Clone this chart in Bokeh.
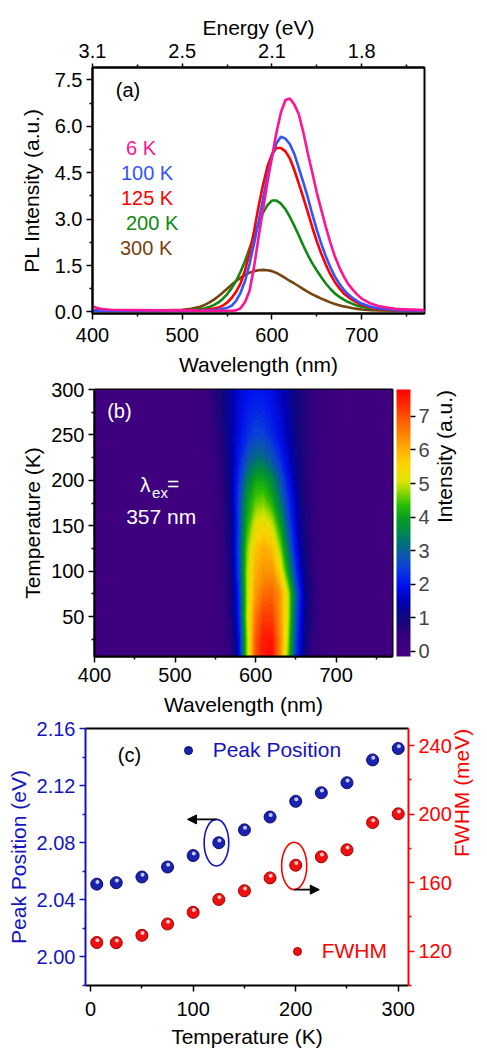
import numpy as np
from math import pi
from bokeh.plotting import figure
from bokeh.models import (LinearAxis, FixedTicker, Label, LinearColorMapper, ColorBar, Range1d,
                          Arrow, NormalHead, Legend, LegendItem, PrintfTickFormatter)
from bokeh.transform import dodge
from bokeh.embed import file_html
from bokeh.resources import INLINE

# ---------------- panel (a): PL spectra ----------------
wavelength = [400, 410, 420, 450, 480, 500, 510,
              520, 525, 530, 535, 540, 545, 550, 555, 560, 565, 570, 575, 580, 585,
              590, 595, 600, 605, 610, 615, 620, 625, 630, 635, 640, 645, 650, 655,
              660, 665, 670, 675, 680, 685, 690, 695, 700, 710, 720, 740, 770]
pl_6K = [0.18, 0.09, 0.07, 0.06, 0.05, 0.05, 0.05,
         0.04, 0.04, 0.04, 0.04, 0.04, 0.04, 0.04, 0.04, 0.05, 0.12, 0.32, 0.68, 1.45, 2.4,
         3.3, 4.2, 5.0, 5.8, 6.45, 6.85, 6.9, 6.7, 6.38, 5.8, 5.12, 4.5, 3.85, 3.3,
         2.75, 2.25, 1.8, 1.45, 1.15, 0.9, 0.72, 0.56, 0.43, 0.27, 0.18, 0.09, 0.06]
pl_100K = [0.04, 0.04, 0.04, 0.04, 0.04, 0.04, 0.04,
           0.04, 0.05, 0.05, 0.06, 0.07, 0.1, 0.13, 0.2, 0.36, 0.62, 1.0, 1.55, 2.2, 2.9,
           3.65, 4.4, 5.05, 5.45, 5.66, 5.6, 5.42, 5.1, 4.65, 4.18, 3.7, 3.15, 2.65, 2.2,
           1.8, 1.45, 1.15, 0.92, 0.72, 0.57, 0.45, 0.35, 0.27, 0.17, 0.11, 0.06, 0.04]
pl_125K = [0.04, 0.04, 0.04, 0.04, 0.04, 0.04, 0.05,
           0.06, 0.07, 0.09, 0.11, 0.14, 0.2, 0.3, 0.45, 0.65, 0.92, 1.35, 1.9, 2.6, 3.4,
           4.1, 4.7, 5.1, 5.3, 5.3, 5.19, 4.96, 4.58, 4.14, 3.69, 3.22, 2.73, 2.28, 1.88,
           1.53, 1.22, 0.97, 0.77, 0.6, 0.48, 0.38, 0.3, 0.23, 0.14, 0.09, 0.05, 0.04]
pl_200K = [0.03, 0.03, 0.03, 0.03, 0.03, 0.04, 0.06,
           0.09, 0.12, 0.16, 0.22, 0.3, 0.42, 0.57, 0.77, 1.0, 1.3, 1.65, 2.05, 2.45, 2.85,
           3.2, 3.45, 3.6, 3.6, 3.5, 3.32, 3.07, 2.78, 2.47, 2.14, 1.84, 1.57, 1.34, 1.12,
           0.92, 0.75, 0.6, 0.49, 0.4, 0.32, 0.26, 0.21, 0.17, 0.11, 0.08, 0.05, 0.03]
pl_300K = [0.06, 0.05, 0.05, 0.05, 0.05, 0.07, 0.1,
           0.17, 0.23, 0.3, 0.39, 0.5, 0.62, 0.75, 0.88, 1.0, 1.1, 1.2, 1.27, 1.32, 1.35,
           1.36, 1.35, 1.32, 1.26, 1.18, 1.09, 1.0, 0.92, 0.83, 0.74, 0.65, 0.57, 0.5, 0.43,
           0.37, 0.31, 0.26, 0.22, 0.18, 0.15, 0.12, 0.1, 0.08, 0.06, 0.05, 0.04, 0.03]
series_labels = ["6 K", "100 K", "125 K", "200 K", "300 K"]
series_colors = ["#ff1493", "#3355ff", "#ff0000", "#118811", "#774411"]

wl_ticks = [400, 500, 600, 700]
wl_minor = [450, 550, 650, 750]
energy_labels = ["3.1", "2.5", "2.1", "1.8"]
pl_ticks = [0.0, 1.5, 3.0, 4.5, 6.0, 7.5]
pl_minor = [0.75, 2.25, 3.75, 5.25, 6.75]

# ---------------- panel (b): PL map ----------------
map_T = [6, 25, 50, 75, 100, 125, 150, 175, 200, 225, 250, 275, 300]
map_wl = [400, 410, 420, 430, 440, 450, 460, 470, 480, 490, 500, 510, 520, 530,
          540, 550, 560, 570, 580, 590, 600, 610, 620, 630, 640, 650, 660, 670, 680, 690, 700,
          710, 720, 730, 740, 750, 760, 770]
map_bg_left = [0.05, 0.05, 0.05, 0.05, 0.05, 0.05, 0.05, 0.05, 0.05, 0.05, 0.05, 0.05, 0.06, 0.08]
map_bg_right = [0.09, 0.07, 0.06, 0.05, 0.05, 0.05, 0.05]
# intensity at 540..700 nm (10 nm steps), one row per temperature
map_core = [
    [0.1, 0.15, 0.28, 0.6, 1.8, 4.8, 7.0, 7.6, 7.7, 6.4, 4.6, 2.3, 1.1, 0.55, 0.3, 0.18, 0.11],
    [0.1, 0.15, 0.3, 0.65, 1.9, 4.8, 6.9, 7.6, 7.6, 6.5, 4.8, 2.5, 1.2, 0.6, 0.32, 0.2, 0.12],
    [0.1, 0.16, 0.35, 0.85, 2.2, 5.0, 6.6, 7.2, 7.2, 6.3, 5.0, 2.7, 1.3, 0.65, 0.35, 0.2, 0.12],
    [0.1, 0.17, 0.38, 0.9, 2.3, 4.9, 6.2, 6.7, 6.8, 6.3, 5.0, 2.9, 1.4, 0.7, 0.36, 0.21, 0.12],
    [0.1, 0.18, 0.4, 1.0, 2.6, 4.9, 6.0, 6.3, 6.3, 5.5, 4.0, 2.3, 1.2, 0.62, 0.33, 0.2, 0.12],
    [0.1, 0.2, 0.45, 1.05, 2.7, 4.7, 5.7, 6.0, 5.8, 4.8, 3.3, 1.9, 1.05, 0.56, 0.3, 0.19, 0.12],
    [0.1, 0.2, 0.5, 1.1, 2.6, 4.3, 5.2, 5.4, 5.1, 4.1, 2.8, 1.7, 0.95, 0.52, 0.3, 0.19, 0.12],
    [0.1, 0.25, 0.6, 1.2, 2.6, 4.0, 4.6, 4.7, 4.3, 3.4, 2.4, 1.5, 0.88, 0.5, 0.3, 0.19, 0.12],
    [0.12, 0.3, 0.7, 1.3, 2.4, 3.5, 4.1, 4.1, 3.7, 2.9, 2.05, 1.3, 0.82, 0.5, 0.3, 0.2, 0.13],
    [0.15, 0.4, 0.8, 1.35, 2.1, 2.8, 3.2, 3.15, 2.8, 2.3, 1.7, 1.18, 0.78, 0.5, 0.31, 0.21, 0.14],
    [0.2, 0.5, 0.9, 1.4, 1.9, 2.3, 2.55, 2.5, 2.25, 1.9, 1.5, 1.1, 0.75, 0.5, 0.32, 0.22, 0.15],
    [0.25, 0.6, 1.0, 1.4, 1.8, 2.1, 2.25, 2.2, 2.0, 1.75, 1.4, 1.05, 0.75, 0.5, 0.33, 0.23, 0.16],
    [0.3, 0.7, 1.0, 1.4, 1.75, 1.95, 2.0, 2.0, 1.85, 1.6, 1.3, 1.0, 0.75, 0.5, 0.35, 0.25, 0.18],
]
cbar_ticks = [0, 1, 2, 3, 4, 5, 6, 7]
map_T_ticks = [50, 100, 150, 200, 250, 300]
map_T_minor = [25, 75, 125, 175, 225, 275]

# ---------------- panel (c): peak position & FWHM ----------------
temperature = [6, 25, 50, 75, 100, 125, 150, 175, 200, 225, 250, 275, 300]
peak_position = [2.051, 2.052, 2.056, 2.063, 2.071, 2.080, 2.089, 2.098, 2.109, 2.115, 2.122, 2.138, 2.146]
fwhm = [125.1, 125.0, 129.3, 135.9, 142.7, 150.2, 155.3, 162.8, 170.2, 175.1, 179.2, 195.1, 200.2]
T_ticks = [0, 100, 200, 300]
T_minor = [50, 150, 250]
peak_ticks = [2.00, 2.04, 2.08, 2.12, 2.16]
peak_minor = [1.98, 2.02, 2.06, 2.10, 2.14]
fwhm_ticks = [120, 160, 200, 240]
fwhm_minor = [100, 140, 180, 220]

FONT = "Liberation Sans"
TICK_FS = "20px"
LAB_FS = "21px"
BLUE = "#1414c0"
RED = "#ff0000"
W = 487


def style_axis(ax, color="black", tick_out=6, minor_out=3):
    ax.axis_line_color = color
    ax.axis_line_width = 2
    ax.major_tick_line_color = color
    ax.minor_tick_line_color = color
    ax.major_tick_line_width = 1.5
    ax.minor_tick_line_width = 1.5
    ax.major_tick_in = 0
    ax.major_tick_out = tick_out
    ax.minor_tick_in = 0
    ax.minor_tick_out = minor_out
    ax.major_label_text_font = FONT
    ax.major_label_text_font_size = TICK_FS
    ax.major_label_text_color = color
    ax.axis_label_text_font = FONT
    ax.axis_label_text_font_size = LAB_FS
    ax.axis_label_text_font_style = "normal"
    ax.axis_label_text_color = color


def read_upward(ax):
    # right-hand axis titles read bottom-to-top as in the reference
    if "axis_label_orientation" in ax.properties():
        ax.axis_label_orientation = pi / 2


def base_fig(**kw):
    p = figure(output_backend="svg", toolbar_location=None, **kw)
    p.grid.visible = False
    p.background_fill_color = "white"
    p.border_fill_color = "white"
    return p


# ================= panel (a) =================
p1 = base_fig(width=W, height=380, x_range=(400, 770), y_range=(-0.05, 7.9),
              min_border_left=92, min_border_right=W - 92 - 332, min_border_top=67,
              min_border_bottom=67)
p1.outline_line_color = "black"
p1.outline_line_width = 2
for ys, c in zip([pl_300K, pl_200K, pl_125K, pl_100K, pl_6K], series_colors[::-1]):
    p1.line(wavelength, ys, line_color=c, line_width=2.6)

ax = p1.xaxis[0]
ax.ticker = FixedTicker(ticks=wl_ticks, minor_ticks=wl_minor)
ax.axis_label = "Wavelength (nm)"
style_axis(ax)
ax.major_label_standoff = 8
ax.axis_label_standoff = 8
ay = p1.yaxis[0]
ay.ticker = FixedTicker(ticks=pl_ticks, minor_ticks=pl_minor)
ay.formatter = PrintfTickFormatter(format="%.1f")
ay.axis_label = "PL Intensity (a.u.)"
style_axis(ay)
ay.major_label_standoff = 4
ay.axis_label_standoff = 9

top = LinearAxis(ticker=FixedTicker(ticks=wl_ticks, minor_ticks=wl_minor),
                 major_label_overrides={t: s for t, s in zip(wl_ticks, energy_labels)},
                 axis_label="Energy (eV)")
style_axis(top, tick_out=4, minor_out=3)
top.major_label_standoff = 6
top.axis_label_standoff = 2
p1.add_layout(top, "above")

p1.add_layout(Label(x=426, y=7.17, text="(a)", text_font=FONT, text_font_size="20px",
                    text_baseline="middle", text_color="black"))
leg_x = [437.3, 431.7, 431.7, 437.3, 430.6]
leg_y = [5.29, 4.48, 3.68, 2.87, 2.06]
for lx, ly, s, c in zip(leg_x, leg_y, series_labels, series_colors):
    p1.add_layout(Label(x=lx, y=ly, text=s, text_font=FONT, text_font_size="20px",
                        text_baseline="middle", text_color=c))

# ================= panel (b) =================
anchors = [(-0.15, "#45007e"), (0.5, "#320080"), (1.0, "#10087c"), (1.5, "#0000b4"),
           (2.0, "#0014f0"), (2.5, "#0a40d8"), (2.9, "#0a5aa8"), (3.2, "#00707c"),
           (3.6, "#008c46"), (4.0, "#0aa01e"), (4.4, "#30c000"), (4.8, "#9cdc00"),
           (5.1, "#e0e600"), (5.6, "#ffd200"), (6.1, "#ffa800"), (6.6, "#ff7800"),
           (7.1, "#ff4600"), (7.8, "#ff0000")]
lo, hi = -0.15, 7.8
av = np.array([a[0] for a in anchors])
ac = np.array([[int(a[1][i:i + 2], 16) for i in (1, 3, 5)] for a in anchors], dtype=float)


def cmap(v):
    rgb = [np.interp(v, av, ac[:, k]) for k in range(3)]
    return "#%02x%02x%02x" % tuple(int(round(x)) for x in rgb)


palette = [cmap(v) for v in np.linspace(lo, hi, 256)]
mapper = LinearColorMapper(palette=palette, low=lo, high=hi)

levels = np.linspace(lo, hi, 81)
fill_cols = [cmap(0.5 * (a + b)) for a, b in zip(levels[:-1], levels[1:])]
line_cols = [cmap(v) for v in levels]

heat = np.array([map_bg_left + row + map_bg_right for row in map_core], dtype=float)

p2 = base_fig(width=W, height=338, x_range=(400, 770), y_range=(6, 300),
              min_border_left=94, min_border_right=W - 94 - 298, min_border_top=9,
              min_border_bottom=62)
p2.outline_line_color = "black"
p2.outline_line_width = 2
p2.background_fill_color = cmap(0.05)
p2.contour(x=map_wl, y=map_T, z=heat, levels=levels, fill_color=fill_cols,
           line_color=line_cols, line_width=1.0)

bx = p2.xaxis[0]
bx.ticker = FixedTicker(ticks=wl_ticks, minor_ticks=wl_minor)
bx.axis_label = "Wavelength (nm)"
style_axis(bx)
bx.major_label_standoff = 5
bx.axis_label_standoff = 8
by = p2.yaxis[0]
by.ticker = FixedTicker(ticks=map_T_ticks, minor_ticks=map_T_minor)
by.axis_label = "Temperature (K)"
style_axis(by)
by.major_label_standoff = 4
by.axis_label_standoff = 4

cb = ColorBar(color_mapper=mapper, width=14, height=267, padding=0, margin=0, location=(4, 0),
              ticker=FixedTicker(ticks=cbar_ticks), major_tick_out=5, major_tick_in=0,
              major_tick_line_color="black", major_tick_line_width=1.5,
              minor_tick_line_color=None,
              major_label_text_font=FONT, major_label_text_font_size=TICK_FS,
              label_standoff=3, bar_line_color=None, border_line_color=None,
              background_fill_alpha=0)
p2.add_layout(cb, "right")
cb_title = LinearAxis(ticker=FixedTicker(ticks=[]), axis_label="Intensity (a.u.)")
style_axis(cb_title, tick_out=0, minor_out=0)
cb_title.axis_line_color = None
cb_title.major_label_standoff = 0
cb_title.major_label_text_font_size = "0px"
cb_title.axis_label_standoff = 12
read_upward(cb_title)
p2.add_layout(cb_title, "right")

p2.add_layout(Label(x=415.7, y=276.6, text="(b)", text_font=FONT, text_font_size="20px",
                    text_baseline="middle", text_color="white"))
p2.add_layout(Label(x=456.6, y=195.5, text="\u03bb", text_font=FONT, text_font_size="21px",
                    text_baseline="middle", text_color="white"))
p2.add_layout(Label(x=471.5, y=186.7, text="ex", text_font=FONT, text_font_size="15px",
                    text_baseline="middle", text_color="white"))
p2.add_layout(Label(x=490.1, y=196.3, text="=", text_font=FONT, text_font_size="21px",
                    text_baseline="middle", text_color="white"))
p2.add_layout(Label(x=439.3, y=160.7, text="357 nm", text_font=FONT, text_font_size="21px",
                    text_baseline="middle", text_color="white"))

# ================= panel (c) =================
p3 = base_fig(width=W, height=332, x_range=(-5, 310), y_range=(1.98, 2.16),
              min_border_left=85, min_border_right=W - 85 - 328, min_border_top=10,
              min_border_bottom=57)
p3.outline_line_color = None
p3.extra_y_ranges = {"fwhm": Range1d(100, 250)}

cx = p3.xaxis[0]
cx.ticker = FixedTicker(ticks=T_ticks, minor_ticks=T_minor)
cx.axis_label = "Temperature (K)"
style_axis(cx)
cx.major_label_standoff = 10
cx.axis_label_standoff = 6
cy = p3.yaxis[0]
cy.ticker = FixedTicker(ticks=peak_ticks, minor_ticks=peak_minor)
cy.formatter = PrintfTickFormatter(format="%.2f")
cy.axis_label = "Peak Position (eV)"
style_axis(cy, color=BLUE)
cy.major_label_standoff = 4
cy.axis_label_standoff = 4

ry = LinearAxis(y_range_name="fwhm", ticker=FixedTicker(ticks=fwhm_ticks, minor_ticks=fwhm_minor),
                axis_label="FWHM (meV)")
style_axis(ry, color=RED)
ry.major_label_standoff = 4
ry.axis_label_standoff = 7
read_upward(ry)
p3.add_layout(ry, "right")
ctop = LinearAxis(ticker=FixedTicker(ticks=[]), major_tick_out=0, minor_tick_out=0,
                  major_label_standoff=0)
ctop.axis_line_width = 2
ctop.axis_line_color = "black"
ctop.major_label_text_font_size = "0px"
p3.add_layout(ctop, "above")

src = dict(T=temperature, peak=peak_position, fwhm=fwhm)
rb = p3.scatter(x="T", y="peak", source=src, size=12, fill_color="#1a22b0",
                line_color="#0c0c70", line_width=1)
p3.scatter(x=dodge("T", 0.6, range=p3.x_range), y=dodge("peak", 0.0015, range=p3.y_range),
           source=src, size=4, fill_color="white", fill_alpha=0.75, line_color=None)
rr = p3.scatter(x="T", y="fwhm", source=src, y_range_name="fwhm", size=12, fill_color="#f01010",
                line_color="#a00000", line_width=1)
p3.scatter(x=dodge("T", 0.6, range=p3.x_range), y=dodge("fwhm", 1.3),
           source=src, y_range_name="fwhm", size=4, fill_color="white", fill_alpha=0.75,
           line_color=None)

# ellipse + arrow annotations around the 125 K (peak) and 200 K (FWHM) points
i_b = temperature.index(125)
i_r = temperature.index(200)
ell_wb, ell_hb = 24, 0.0327
ell_wr, ell_hr = 24.5, 27.7
p3.ellipse(x=[temperature[i_b] - 2.3], y=[peak_position[i_b]], width=ell_wb, height=ell_hb,
           fill_color=None, line_color=BLUE, line_width=1.6)
p3.ellipse(x=[temperature[i_r] - 1.5], y=[fwhm[i_r] - 0.4], width=ell_wr, height=ell_hr,
           y_range_name="fwhm", fill_color=None, line_color=RED, line_width=1.6)
yb = peak_position[i_b] + ell_hb / 2
p3.add_layout(Arrow(end=NormalHead(size=9, fill_color="black", line_color="black"),
                    x_start=temperature[i_b] - 2.3, y_start=yb, x_end=temperature[i_b] - 30.5,
                    y_end=yb, line_color="black", line_width=1.6))
yr = fwhm[i_r] - 0.4 - ell_hr / 2
p3.add_layout(Arrow(end=NormalHead(size=9, fill_color="black", line_color="black"),
                    x_start=temperature[i_r] - 1.5, y_start=yr, x_end=temperature[i_r] + 23,
                    y_end=yr, line_color="black", line_width=1.6, y_range_name="fwhm"))

p3.add_layout(Label(x=26.5, y=2.1414, text="(c)", text_font=FONT, text_font_size="20px",
                    text_baseline="middle", text_color="black"))

for items, loc, col in [([LegendItem(label="Peak Position", renderers=[rb])], (84.7, 223), BLUE),
                        ([LegendItem(label="FWHM", renderers=[rr])], (193.7, 22), RED)]:
    lg = Legend(items=items, location=loc, glyph_width=36, glyph_height=20, label_standoff=7,
                padding=0, margin=0, spacing=0, border_line_color=None,
                background_fill_alpha=0, label_text_font=FONT, label_text_font_size=LAB_FS,
                label_text_color=col)
    p3.add_layout(lg)

# three independent roots, stacked vertically (no cross-plot frame alignment)
open("out.html", "w").write(file_html([p1, p2, p3], INLINE))
